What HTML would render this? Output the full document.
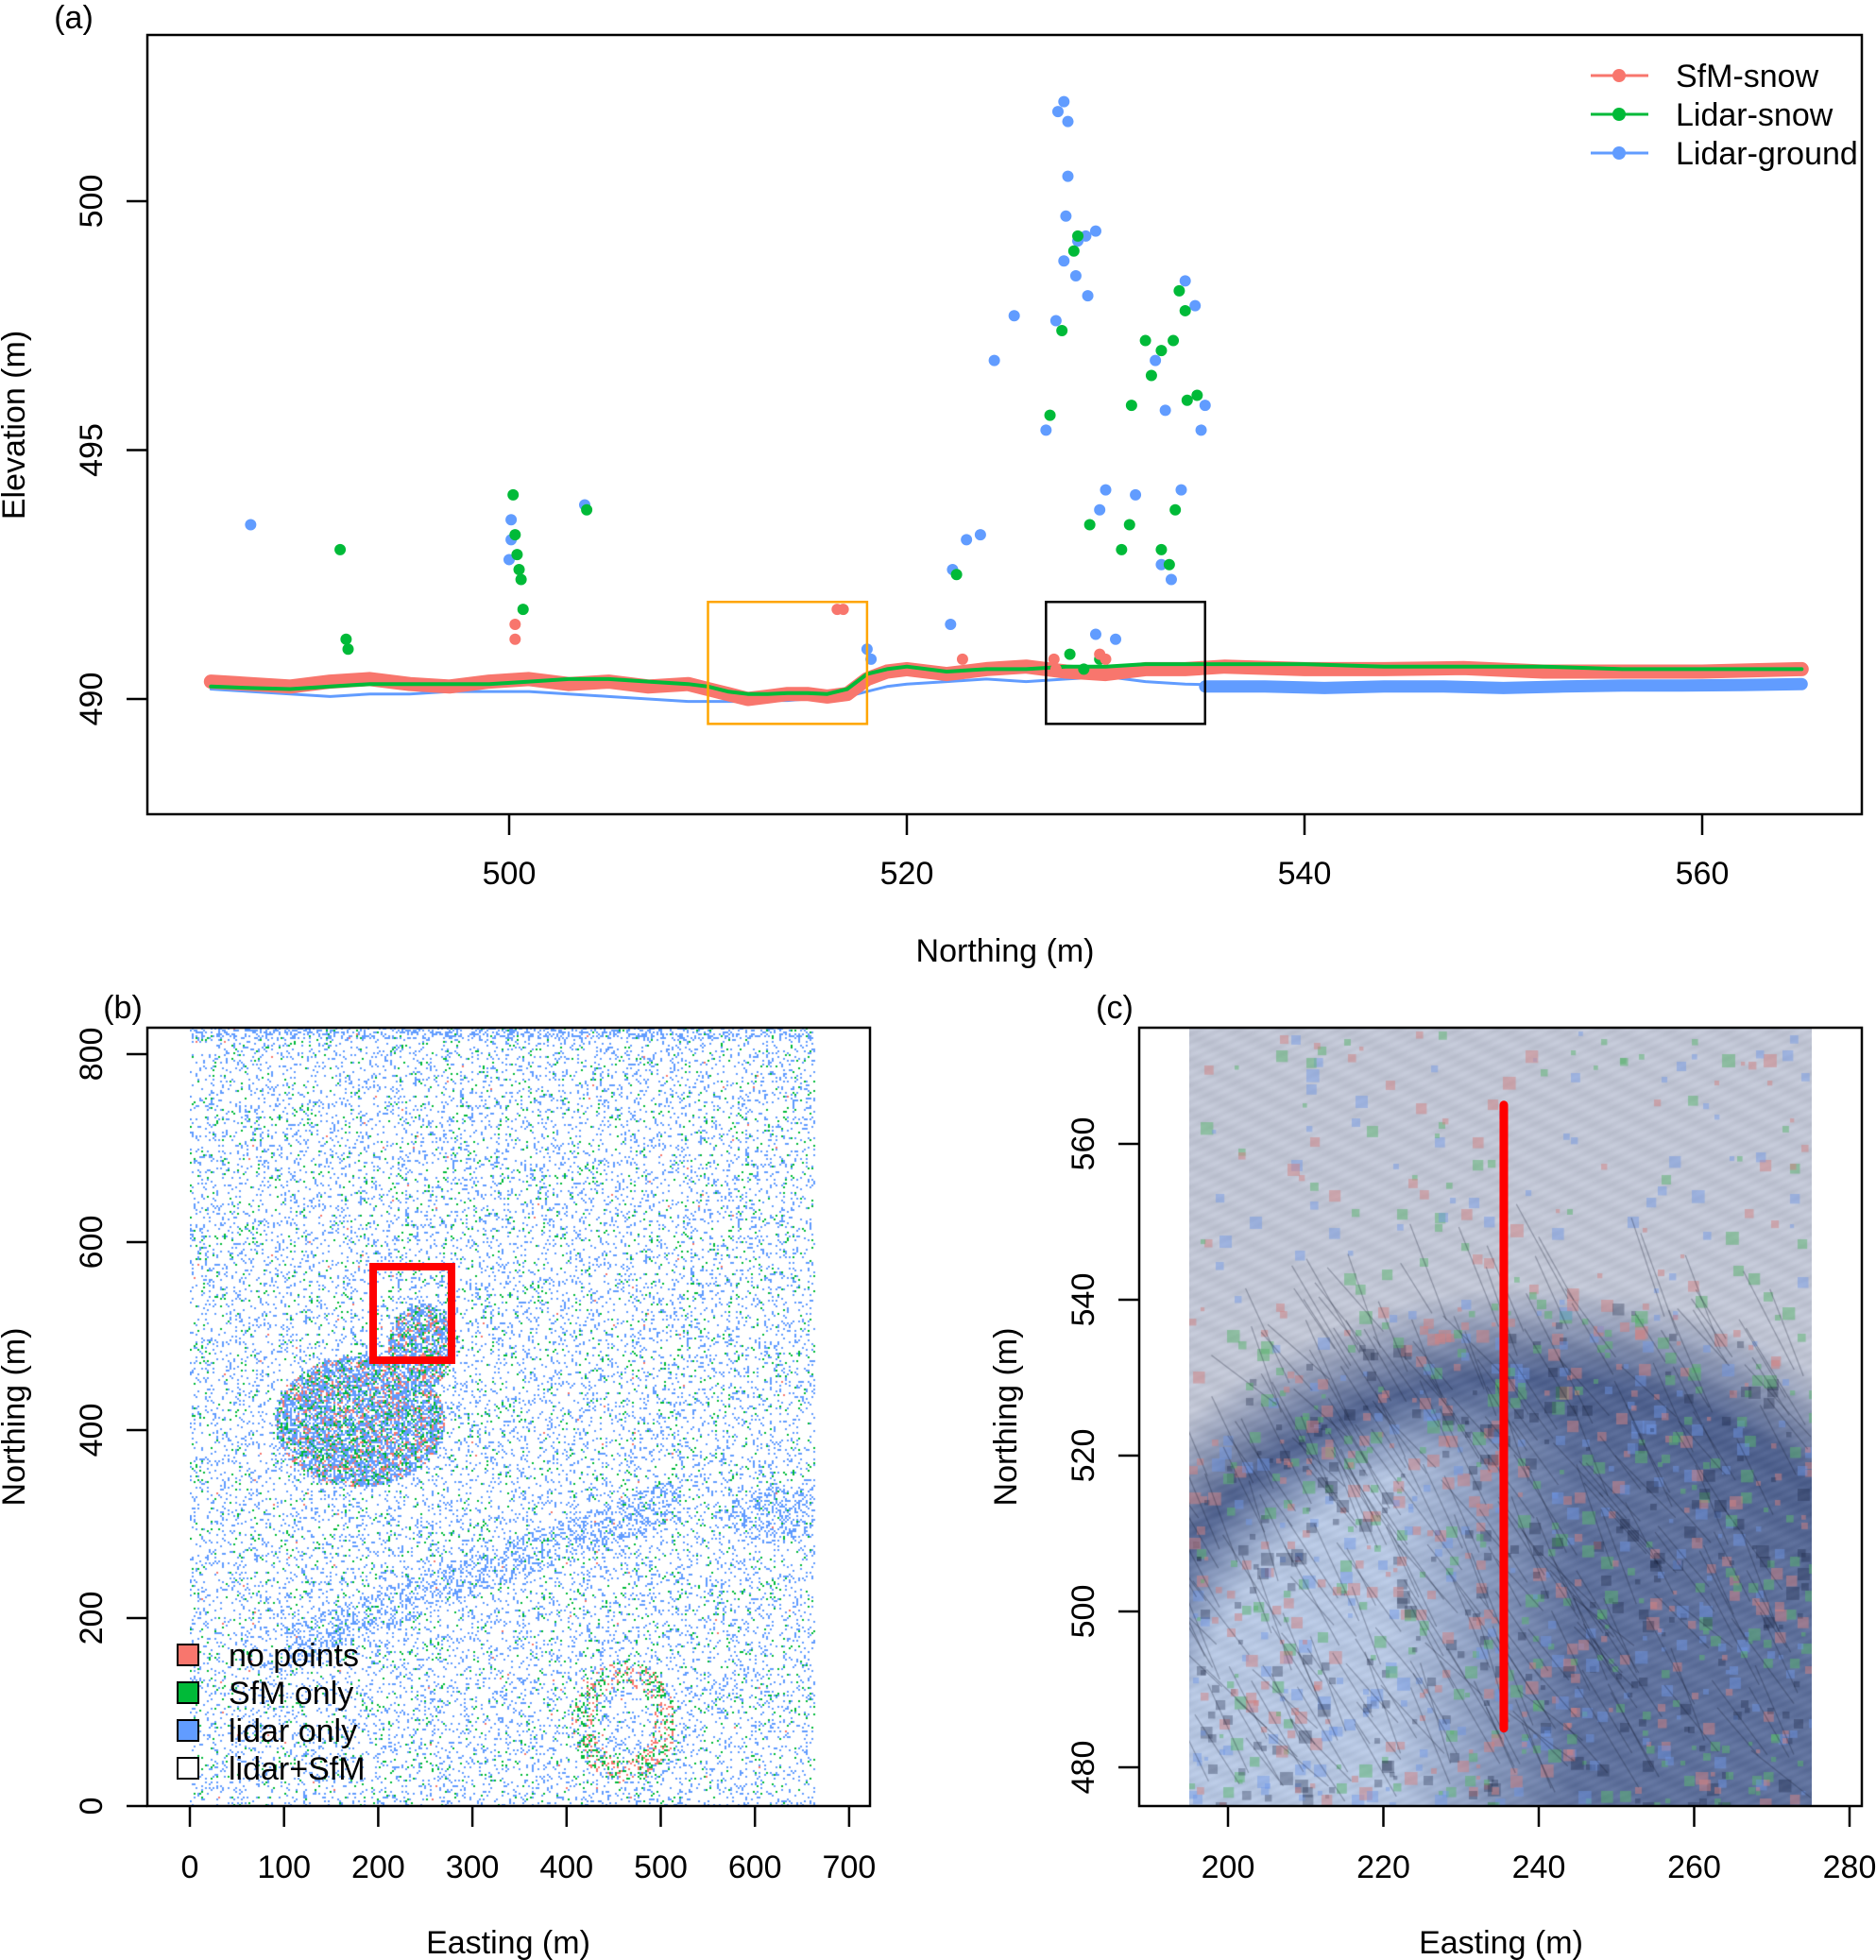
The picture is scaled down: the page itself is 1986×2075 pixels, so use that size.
<!DOCTYPE html>
<html><head><meta charset="utf-8">
<style>
html,body{margin:0;padding:0;background:#fff;}
body{width:1986px;height:2075px;position:relative;overflow:hidden;font-family:"Liberation Sans",Arial,sans-serif;}
canvas{position:absolute;}
svg{position:absolute;left:0;top:0;}
</style></head>
<body>
<canvas id="cb" style="left:201px;top:1088px" width="673" height="824"></canvas>
<canvas id="cc" style="left:1259px;top:1088px" width="659" height="824"></canvas>
<svg id="s" width="1986" height="2075" font-family="Liberation Sans, Arial, sans-serif"></svg>
<script>
// ---- Panel (a) data ----
const northing = [485,487,489,491,493,495,497,499,501,503,505,507,509,510,511,512,513,514,515,516,517,518,519,520,522,524,526,528,530,532,534,536,540,544,548,552,556,560,565];
const sfmSnow  = [490.35,490.3,490.25,490.35,490.4,490.3,490.25,490.35,490.4,490.3,490.35,490.25,490.3,490.2,490.1,490.0,490.05,490.1,490.1,490.05,490.1,490.4,490.55,490.6,490.5,490.6,490.65,490.55,490.5,490.6,490.6,490.65,490.6,490.6,490.62,490.55,490.55,490.55,490.6];
const lidarSnow= [490.25,490.22,490.2,490.25,490.3,490.3,490.3,490.3,490.35,490.4,490.4,490.35,490.3,490.25,490.15,490.1,490.1,490.12,490.12,490.1,490.2,490.5,490.6,490.65,490.55,490.6,490.6,490.65,490.65,490.7,490.7,490.7,490.7,490.65,490.65,490.65,490.6,490.6,490.6];
const lidarGround=[490.2,490.15,490.1,490.05,490.1,490.1,490.15,490.15,490.15,490.1,490.05,490.0,489.95,489.95,489.95,489.95,489.97,489.97,490.0,490.0,490.05,490.15,490.25,490.3,490.35,490.4,490.35,490.4,490.45,490.35,490.3,490.28,490.28,490.27,490.27,490.28,490.28,490.3,490.3];
const groundBandX=[535,538,541,544,547,550,553,556,559,562,565];
const groundBandY=[490.25,490.25,490.22,490.25,490.25,490.22,490.25,490.27,490.27,490.28,490.3];
const blueOutX=[487,500.1,500.1,500.0,503.8,522.2,522.3,523,523.7,524.4,525.4,527,527.5,527.6,527.9,528.1,528.1,528,527.9,528.6,529,529.5,529.1,528.5,531.5,532.5,533,535,534.8,534,534.5,533.8,532.8,530,529.7,533.3,529.5,530.5,518,518.2];
const blueOutY=[493.5,493.6,493.2,492.8,493.9,491.5,492.6,493.2,493.3,496.8,497.7,495.4,497.6,501.8,502,501.6,500.5,499.7,498.8,499.2,499.3,499.4,498.1,498.5,494.1,496.8,495.8,495.9,495.4,498.4,497.9,494.2,492.7,494.2,493.8,492.4,491.3,491.2,491.0,490.8];
const greenOutX=[491.5,491.9,491.8,500.2,500.3,500.4,500.5,500.6,500.7,503.9,522.5,527.2,527.8,528.4,528.6,531.3,532,532.3,532.8,533.4,534.1,534.6,533.7,534,533.5,531.2,532.8,533.2,528.2,528.9,529.7,530.8,529.2];
const greenOutY=[493,491,491.2,494.1,493.3,492.9,492.6,492.4,491.8,493.8,492.5,495.7,497.4,499,499.3,495.9,497.2,496.5,497,497.2,496,496.1,498.2,497.8,493.8,493.5,493,492.7,490.9,490.6,490.8,493,493.5];
const redOutX=[500.3,500.3,516.5,516.8,522.8,527.4,530,529.7,527.5];
const redOutY=[491.5,491.2,491.8,491.8,490.8,490.8,490.8,490.9,490.6];
const xTicksA=[500,520,540,560];
const yTicksA=[490,495,500];
const xTicksB=[0,100,200,300,400,500,600,700];
const yTicksB=[0,200,400,600,800];
const xTicksC=[200,220,240,260,280];
const yTicksC=[480,500,520,540,560];
const legendA=["SfM-snow","Lidar-snow","Lidar-ground"];
const legendB=["no points","SfM only","lidar only","lidar+SfM"];

const RED="#f8766d",GREEN="#00ba38",BLUE="#619cff";
const NS="http://www.w3.org/2000/svg";
const svg=document.getElementById('s');
function el(t,a,p){const e=document.createElementNS(NS,t);for(const k in a)e.setAttribute(k,a[k]);(p||svg).appendChild(e);return e;}
function txt(s,x,y,size,anchor,rot,p){const e=el('text',{x:x,y:y,'font-size':size,'text-anchor':anchor||'middle',fill:'#000'},p);if(rot)e.setAttribute('transform','rotate(-90 '+x+' '+y+')');e.textContent=s;return e;}

const ax=v=>539+(v-500)*21.05, ay=v=>740-(v-490)*52.7;
const gA=el('g',{});
const clipA=el('clipPath',{id:'ca'},gA);el('rect',{x:156,y:37,width:1815,height:825},clipA);
const plotA=el('g',{'clip-path':'url(#ca)'},gA);
function line(xs,ys,c,w,name){const d=xs.map((x,i)=>(i?'L':'M')+ax(x).toFixed(1)+' '+ay(ys[i]).toFixed(1)).join(' ');const p=el('path',{d:d,fill:'none',stroke:c,'stroke-width':w,'stroke-linejoin':'round','stroke-linecap':'round'},plotA);}
line(northing,lidarGround,BLUE,3,'lidar-ground-line');
line(groundBandX,groundBandY,BLUE,13,'lidar-ground-band');
line(northing,sfmSnow,RED,15,'sfm-snow-line');
line(northing,lidarSnow,GREEN,4,'lidar-snow-line');
function pts(xs,ys,c,name){xs.forEach((x,i)=>{const p=el('circle',{cx:ax(x),cy:ay(ys[i]),r:6,fill:c},plotA);});}
pts(blueOutX,blueOutY,BLUE,'lidar-ground-point');
pts(greenOutX,greenOutY,GREEN,'lidar-snow-point');
pts(redOutX,redOutY,RED,'sfm-snow-point');
let r=el('rect',{x:ax(510),y:ay(491.95),width:ax(518)-ax(510),height:ay(489.5)-ay(491.95),fill:'none',stroke:'#ffa500','stroke-width':2.5},gA);
r=el('rect',{x:ax(527),y:ay(491.95),width:ax(535)-ax(527),height:ay(489.5)-ay(491.95),fill:'none',stroke:'#000','stroke-width':2.5},gA);
el('rect',{x:156,y:37,width:1815,height:825,fill:'none',stroke:'#000','stroke-width':2.5},gA);
xTicksA.forEach(v=>{el('line',{x1:ax(v),x2:ax(v),y1:862,y2:884,stroke:'#000','stroke-width':2.5},gA);txt(String(v),ax(v),936,34,'middle',0,gA);});
yTicksA.forEach(v=>{el('line',{x1:134,x2:156,y1:ay(v),y2:ay(v),stroke:'#000','stroke-width':2.5},gA);txt(String(v),108,ay(v),34,'middle',1,gA);});
txt('Northing (m)',1064,1018,34,'middle',0,gA);
txt('Elevation (m)',26,450,34,'middle',1,gA);
txt('(a)',78,30,34,'middle',0,gA);
[RED,GREEN,BLUE].forEach((c,i)=>{const y=80+i*41;el('line',{x1:1684,x2:1745,y1:y,y2:y,stroke:c,'stroke-width':3},gA);el('circle',{cx:1714,cy:y,r:7,fill:c},gA);const t=txt(legendA[i],1774,y+12,34,'start',0,gA);});

const bx=v=>201+v*0.997, by=v=>1912-v*0.995;
const gB=el('g',{});
el('rect',{x:156,y:1088,width:765,height:824,fill:'none',stroke:'#000','stroke-width':2.5},gB);
xTicksB.forEach(v=>{el('line',{x1:bx(v),x2:bx(v),y1:1912,y2:1934,stroke:'#000','stroke-width':2.5},gB);txt(String(v),bx(v),1988,34,'middle',0,gB);});
yTicksB.forEach(v=>{el('line',{x1:134,x2:156,y1:by(v),y2:by(v),stroke:'#000','stroke-width':2.5},gB);txt(String(v),108,by(v),34,'middle',1,gB);});
txt('Easting (m)',538,2068,34,'middle',0,gB);
txt('Northing (m)',26,1500,34,'middle',1,gB);
txt('(b)',130,1078,34,'middle',0,gB);
r=el('rect',{x:395,y:1341,width:83,height:99,fill:'none',stroke:'#ff0000','stroke-width':8},gB);
[RED,GREEN,BLUE,'#fff'].forEach((c,i)=>{const y=1752+i*40;el('rect',{x:188,y:y-11,width:22,height:22,fill:c,stroke:'#000','stroke-width':2},gB);const t=txt(legendB[i],242,y+12,34,'start',0,gB);});

const cx=v=>1300+(v-200)*8.225, cy=v=>1871-(v-480)*8.25;
const gC=el('g',{});
el('rect',{x:1206,y:1088,width:765,height:824,fill:'none',stroke:'#000','stroke-width':2.5},gC);
xTicksC.forEach(v=>{el('line',{x1:cx(v),x2:cx(v),y1:1912,y2:1934,stroke:'#000','stroke-width':2.5},gC);txt(String(v),cx(v),1988,34,'middle',0,gC);});
yTicksC.forEach(v=>{el('line',{x1:1184,x2:1206,y1:cy(v),y2:cy(v),stroke:'#000','stroke-width':2.5},gC);txt(String(v),1158,cy(v),34,'middle',1,gC);});
txt('Easting (m)',1589,2068,34,'middle',0,gC);
txt('Northing (m)',1076,1500,34,'middle',1,gC);
txt('(c)',1180,1078,34,'middle',0,gC);
r=el('line',{x1:cx(235.5),x2:cx(235.5),y1:cy(565),y2:cy(485),stroke:'#ff0000','stroke-width':9,'stroke-linecap':'round'},gC);

let seed=12345;function rnd(){seed=(seed*1103515245+12345)&0x7fffffff;return seed/0x7fffffff;}
(function(){const c=document.getElementById('cb'),g=c.getContext('2d');g.fillStyle='#fff';g.fillRect(0,0,673,824);
const W=673,H=824;
function dens(e,n){let d=0.13;
 const inE=((e-180)/90)**2+((n-410)/70)**2; if(inE<1)d=0.5;
 const inR=((e-245)/35)**2+((n-490)/45)**2; if(inR<1)d=0.5;
 const t=(e-100)/420; if(t>0&&t<1){const yc=170+t*160; if(Math.abs(n-yc)<22)d=0.35;}
 if(((e-620)/50)**2+((n-310)/30)**2<1)d=0.35;
 if(n>818)d=0.4;
 return d;}
for(let y=0;y<H;y+=2)for(let x=0;x<W;x+=2){if(x>=662)continue;const e=x/0.997,n=(824-y)/0.995;const d=dens(e,n);const u=rnd();
 let col=null;const blob=d>0.45;
 if(u<d*0.85)col=BLUE;else if(u<d*0.85+0.025+(blob?0.12:0))col=GREEN;else if(u<d*0.85+0.03+(blob?0.24:0))col=blob?RED:(rnd()<0.3?RED:null);
 const ring=((e-460)/55)**2+((n-90)/65)**2; if(ring<1&&ring>0.35&&rnd()<0.25)col=rnd()<0.5?RED:GREEN;
 if(col){g.fillStyle=col;g.fillRect(x,y,2,2);}}
})();
(function(){const c=document.getElementById('cc'),g=c.getContext('2d');const W=659,H=824;
const img=g.createImageData(W,H);const D=img.data;
const ccx=0.55*W,ccy=1.0*H,rad=540;
for(let y=0;y<H;y++)for(let x=0;x<W;x++){const rr=Math.hypot(x-ccx,y-ccy)/rad;
 let R=192,G=197,B=212;
 const k=Math.max(0,Math.min(1,(1.02-rr)/0.18));
 R-=115*k;G-=102*k;B-=72*k;
 if(rr<0.85){const lm=Math.max(0,Math.min(1,(0.62*W-x)/(0.3*W)))*Math.max(0,Math.min(1,(0.85-rr)/0.15));R+=105*lm;G+=103*lm;B+=85*lm;
  const lr=0.35*Math.max(0,Math.min(1,(0.85-rr)/0.2))*(1-lm);R+=50*lr;G+=50*lr;B+=45*lr;}
 const n=(Math.sin(x*0.3+y*0.7)+Math.sin(x*0.11-y*0.23))*4;
 const i=(y*W+x)*4;D[i]=R+n;D[i+1]=G+n;D[i+2]=B+n;D[i+3]=255;}
g.putImageData(img,0,0);
const cols=['rgba(210,130,130,0.5)','rgba(90,180,110,0.5)','rgba(110,150,230,0.45)','rgba(20,30,60,0.3)'];
for(let k=0;k<1800;k++){const x=rnd()*W,y=rnd()*H;const lower=Math.hypot(x-ccx,y-ccy)<rad;if(!lower&&rnd()<0.75)continue;g.fillStyle=cols[Math.floor(rnd()*(lower?4:3))];const s=4+rnd()*10;g.fillRect(Math.floor(x/4)*4,Math.floor(y/4)*4,s,s);}
g.strokeStyle='rgba(20,25,45,0.3)';g.lineWidth=1.2;
for(let k=0;k<450;k++){const x=rnd()*W,y=rnd()*H;if(Math.hypot(x-ccx,y-ccy)>rad)continue;g.beginPath();g.moveTo(x,y);g.lineTo(x-30-rnd()*40,y-50-rnd()*60);g.stroke();}
})();
</script>
</body></html>
